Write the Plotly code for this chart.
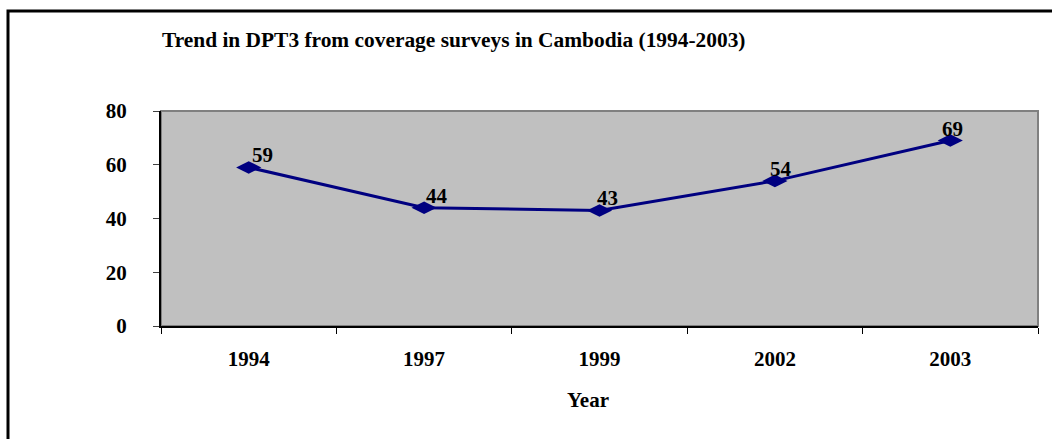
import plotly.graph_objects as go

# DPT3 coverage by survey year
years = ["1994", "1997", "1999", "2002", "2003"]
coverage = [59, 44, 43, 54, 69]
y_ticks = [0, 20, 40, 60, 80]
# horizontal nudge for each value label (px)
label_dx = [14, 13, 8, 6, 2]

W, H = 1052, 439
L, R, T, B = 161, 14, 111, 113
pw, ph = W - L - R, H - T - B

FONT = "Liberation Serif, Times New Roman, serif"

fig = go.Figure()
fig.add_trace(go.Scatter(
    x=years, y=coverage, mode="lines+markers",
    line=dict(color="#000080", width=3),
    marker=dict(symbol="diamond-wide", size=18, color="#000080"),
    cliponaxis=False, hoverinfo="skip",
))

for i, (v, dx) in enumerate(zip(coverage, label_dx)):
    fig.add_annotation(
        x=i, y=v, xref="x", yref="y", text=str(v), showarrow=False,
        xshift=dx, yshift=12, xanchor="center", yanchor="middle",
        font=dict(family=FONT, size=21, color="black", weight="bold"),
    )

# gray frame of the plotting area
fig.add_shape(type="rect", xref="x domain", yref="y domain",
              x0=0, x1=1, y0=0, y1=1, line=dict(color="#808080", width=2),
              fillcolor="rgba(0,0,0,0)", layer="below")

# outer chart border (top and left edges visible)
def px_x(px):
    return (px - L) / pw

def px_y(py):
    return (H - B - py) / ph

fig.add_shape(type="rect", xref="paper", yref="paper",
              x0=px_x(8), x1=px_x(W + 20), y0=px_y(H + 20), y1=px_y(11),
              line=dict(color="black", width=3), fillcolor="rgba(0,0,0,0)")

fig.add_annotation(
    text="Year", xref="paper", yref="paper", x=px_x(588), y=0,
    xanchor="center", yanchor="middle", yshift=-74, showarrow=False,
    font=dict(family=FONT, size=21, color="black", weight="bold"),
)

fig.update_layout(
    width=W, height=H,
    margin=dict(l=L, r=R, t=T, b=B, pad=0),
    paper_bgcolor="white", plot_bgcolor="#C0C0C0",
    showlegend=False,
    title=dict(
        text="Trend in DPT3 from coverage surveys in Cambodia (1994-2003)",
        x=162 / W, xanchor="left", xref="container",
        y=1 - 40 / H, yanchor="middle", yref="container",
        font=dict(family=FONT, size=21.4, color="black", weight="bold"),
    ),
    xaxis=dict(
        type="category", range=[-0.5, 4.5], tickson="boundaries",
        ticks="outside", ticklen=6, tickcolor="black", tickwidth=1,
        showline=True, linecolor="black", linewidth=2,
        showgrid=False, zeroline=False, ticklabelstandoff=13,
        tickfont=dict(family=FONT, size=21, color="black", weight="bold"),
    ),
    yaxis=dict(
        range=[0, 80], tickvals=y_ticks, ticks="outside", ticklen=6,
        tickcolor="#404040", tickwidth=1,
        showline=True, linecolor="black", linewidth=2,
        showgrid=False, zeroline=False, ticklabelstandoff=22,
        tickfont=dict(family=FONT, size=21, color="black", weight="bold"),
    ),
)

fig.write_html("out.html")
